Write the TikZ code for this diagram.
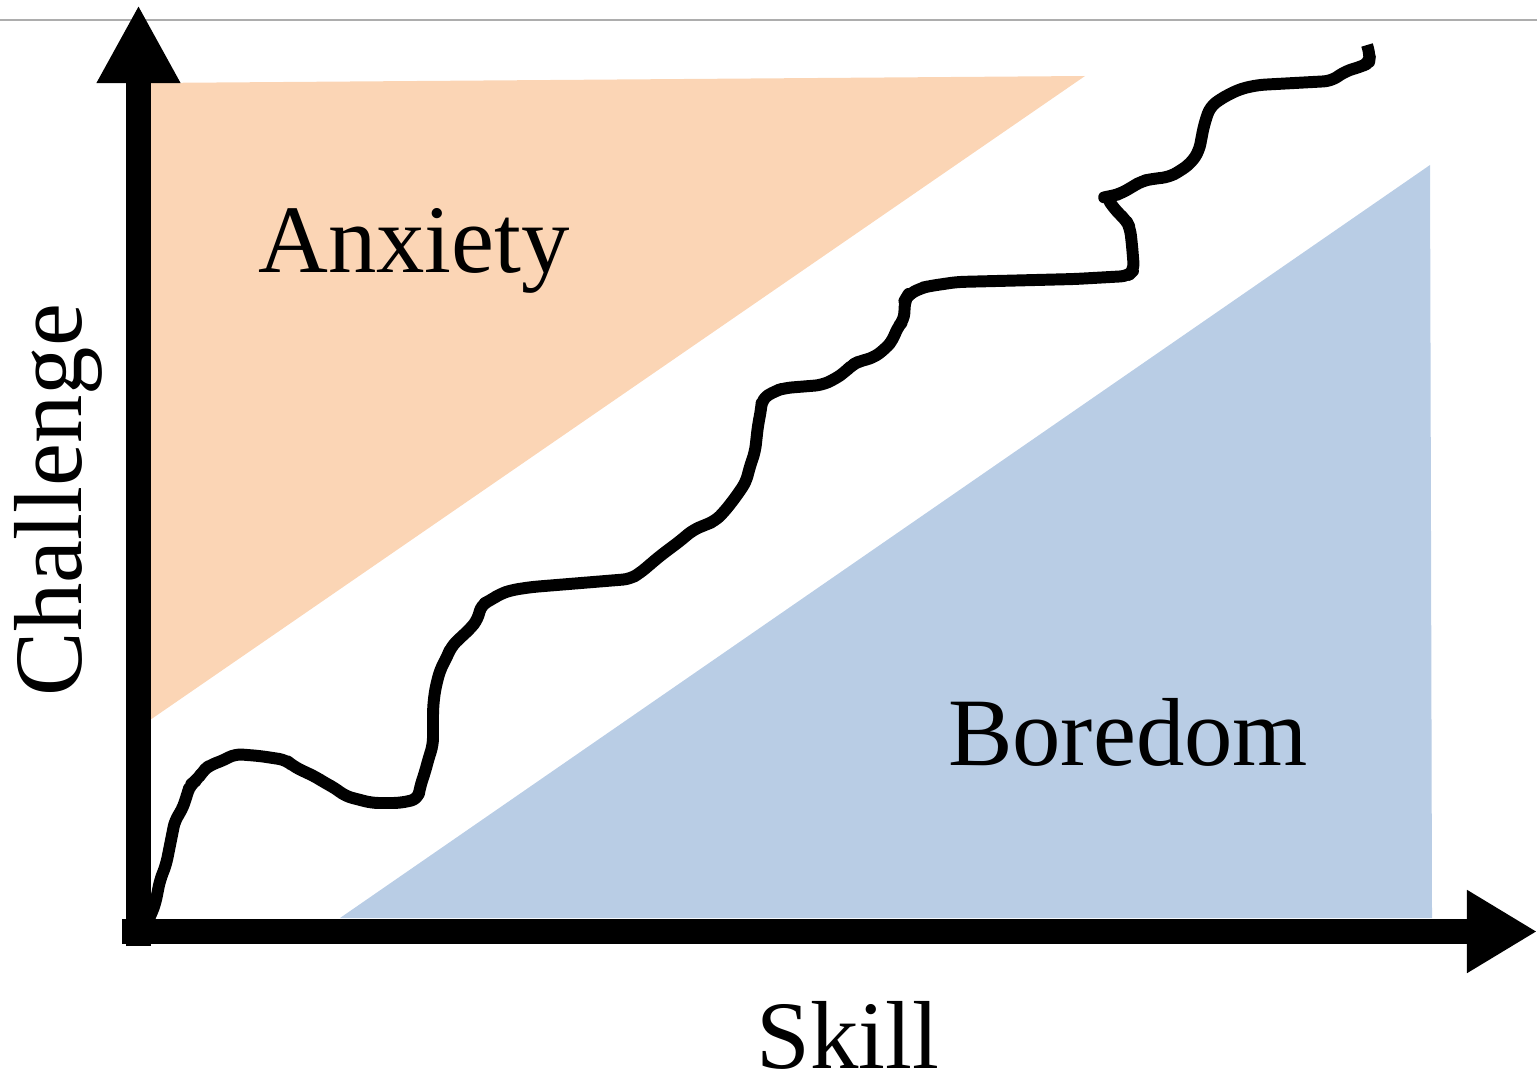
\documentclass[tikz,border=0pt]{standalone}
\usepackage{fontspec}
\setmainfont{Liberation Serif}
\usetikzlibrary{arrows.meta}
\definecolor{anxietycol}{HTML}{FBD5B5}
\definecolor{boredomcol}{HTML}{B9CDE5}
\begin{document}
\begin{tikzpicture}[x=0.01cm,y=-0.01cm]

      \useasboundingbox (0,0) rectangle (1537,1079);
      \draw[black!32,line width=0.6pt] (0,20) -- (1537,20);

      % zones
      \fill[anxietycol] (150,83) -- (1085,76) -- (150,720) -- cycle;
      \fill[boredomcol] (340,918) -- (1430,165) -- (1432,918) -- cycle;

      % flow channel
      \draw[line width=3.4pt,line join=round,rounded corners=2pt]
        (142,935) -- (155,905) -- (160,880) -- (166,865) -- (170,845) -- (175,820)
        -- (182,810) -- (187,795) -- (190,785) -- (197,780) -- (203,771) -- (210,765)
        -- (222,761) -- (235,754) -- (260,756) -- (286,760) -- (293,766) -- (305,772)
        -- (316,777) -- (325,783) -- (335,788) -- (345,796) -- (372,803) -- (400,803)
        -- (418,799) -- (420,787) -- (425,772) -- (429,757) -- (433,745) -- (433,708)
        -- (435,690) -- (440,670) -- (447,657) -- (451,647) -- (460,638) -- (470,629)
        -- (478,619) -- (481,605) -- (491,600) -- (500,594) -- (512,590) -- (532,587)
        -- (630,579) -- (640,573) -- (660,556) -- (680,541) -- (693,530) -- (705,525)
        -- (715,521) -- (724,512) -- (735,498) -- (746,482) -- (750,466) -- (755,452)
        -- (758,425) -- (761,410) -- (762,399) -- (775,391) -- (785,388) -- (822,385)
        -- (835,379) -- (845,372) -- (852,365) -- (860,361) -- (873,358) -- (885,349)
        -- (893,340) -- (897,328) -- (904,320) -- (905,300) -- (908,295) -- (921,288)
        -- (930,286) -- (957,282) -- (1075,279) -- (1128,276) -- (1134,270) -- (1132,245)
        -- (1130,228) -- (1126,220) -- (1117,212) -- (1106,197) -- (1111,196) -- (1120,194)
        -- (1132,187) -- (1142,181) -- (1152,179) -- (1169,177) -- (1180,171) -- (1191,163)
        -- (1199,151) -- (1204,125) -- (1210,107) -- (1222,98) -- (1240,89) -- (1258,85)
        -- (1331,81) -- (1346,71) -- (1360,67) -- (1369,63) -- (1370,55) -- (1367,45);

      % axes
      \coordinate (o)    at (138.5,946);
      \coordinate (ytip) at (138.5,5);
      \coordinate (xo)   at (122,931.5);
      \coordinate (xtip) at (1537,931.5);
      \draw[line width=0.25cm,-{Triangle[length=0.78cm,width=0.78cm]}] (o) -- (ytip);
      \draw[line width=0.25cm,-{Triangle[length=0.7cm,width=0.78cm]}] (xo) -- (xtip);

      \begin{scope}[every node/.style={inner sep=0pt,font=\fontsize{27.5}{30}\selectfont}]
        \node[anchor=base] (anxiety)   at (414,272)  {Anxiety};
        \node[anchor=base] (boredom)   at (1128,765) {Boredom};
        \node[anchor=base,text depth=0pt] (skill) at (848,1068) {Skill};
        \node[anchor=base,rotate=90] (challenge) at (81,500) {Challenge};
      \end{scope}

    \end{tikzpicture}
\end{document}
